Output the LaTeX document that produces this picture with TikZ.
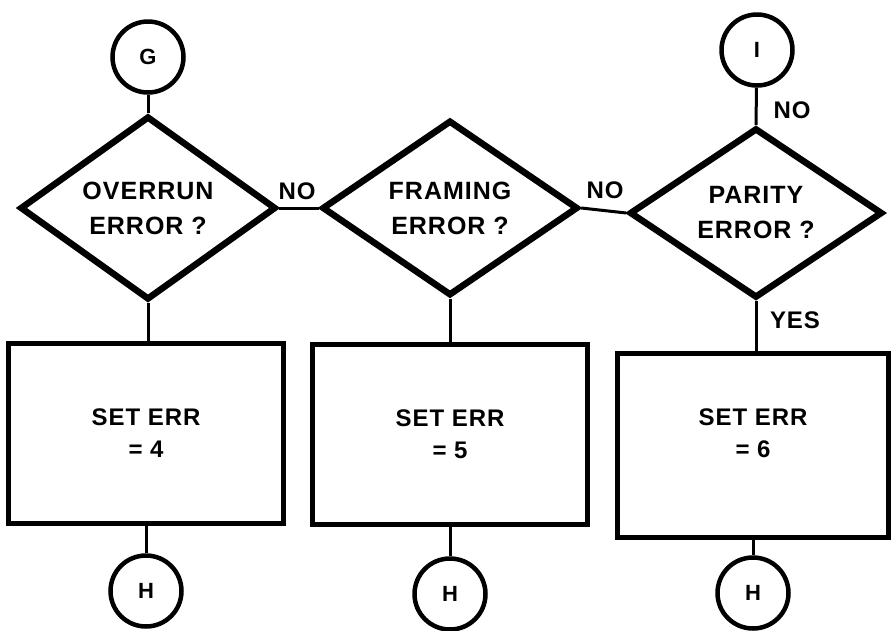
\documentclass[tikz,border=0pt]{standalone}
\usepackage{fontspec}
\setmainfont{Liberation Sans}
\newfontfamily\flowfont[LetterSpace=4]{Liberation Sans}
\usetikzlibrary{shapes.geometric}

\begin{document}
\begin{tikzpicture}[x=1pt,y=-1pt,
    decision/.style={draw,shape=diamond,line width=6.5pt,minimum width=256pt,minimum height=170pt,
      inner sep=0pt,align=center,font=\flowfont\bfseries\fontsize{25}{35}\selectfont},
    process/.style={draw,rectangle,line width=5pt,minimum width=275pt,minimum height=180pt,
      align=center,font=\flowfont\bfseries\fontsize{24}{32}\selectfont},
    connector/.style={draw,circle,line width=4.5pt,minimum size=71pt,inner sep=0pt,
      font=\flowfont\bfseries\fontsize{22}{22}\selectfont},
    flowlabel/.style={font=\flowfont\bfseries\fontsize{24}{24}\selectfont},
    flowline/.style={line width=3pt}]
  \useasboundingbox (0,0) rectangle (895,630);

  \node[connector] (g) at (148,57) {G};
  \node[connector] (i) at (757,50) {I};

  \node[decision] (overrun) at (148,208) {OVERRUN\\ERROR ?};
  \node[decision] (framing) at (450,208) {FRAMING\\ERROR ?};
  \node[decision,minimum width=253pt,minimum height=167pt] (parity) at (756,213) {PARITY\\ERROR ?};

  \node[process] (err4) at (146,433) {SET ERR\\= 4};
  \node[process] (err5) at (450,434) {SET ERR\\= 5};
  \node[process,minimum width=271pt,minimum height=184pt,
    label={[process,draw=none,minimum size=0pt,yshift=12pt]center:SET ERR\\= 6}] (err6) at (753,445) {};

  \node[connector] (h4) at (146,591) {H};
  \node[connector] (h5) at (450,594) {H};
  \node[connector] (h6) at (753,593) {H};

  \node[flowlabel] (no1) at (297,191) {NO};
  \node[flowlabel] (no2) at (605,190) {NO};
  \node[flowlabel] (no3) at (792,110) {NO};
  \node[flowlabel] (yes) at (795,320) {YES};

  \draw[flowline] (g) -- (overrun.north);
  \draw[flowline] (i) -- (parity.north);
  \draw[flowline] (overrun.east) -- (framing.west);
  \draw[flowline] (framing.east) -- (parity.west);
  \draw[flowline] (overrun.south) -- (overrun.south |- err4.north);
  \draw[flowline] (framing.south) -- (framing.south |- err5.north);
  \draw[flowline] (parity.south) -- (parity.south |- err6.north);
  \draw[flowline] (err4) -- (h4);
  \draw[flowline] (err5) -- (h5);
  \draw[flowline] (err6) -- (h6);
\end{tikzpicture}
\end{document}
